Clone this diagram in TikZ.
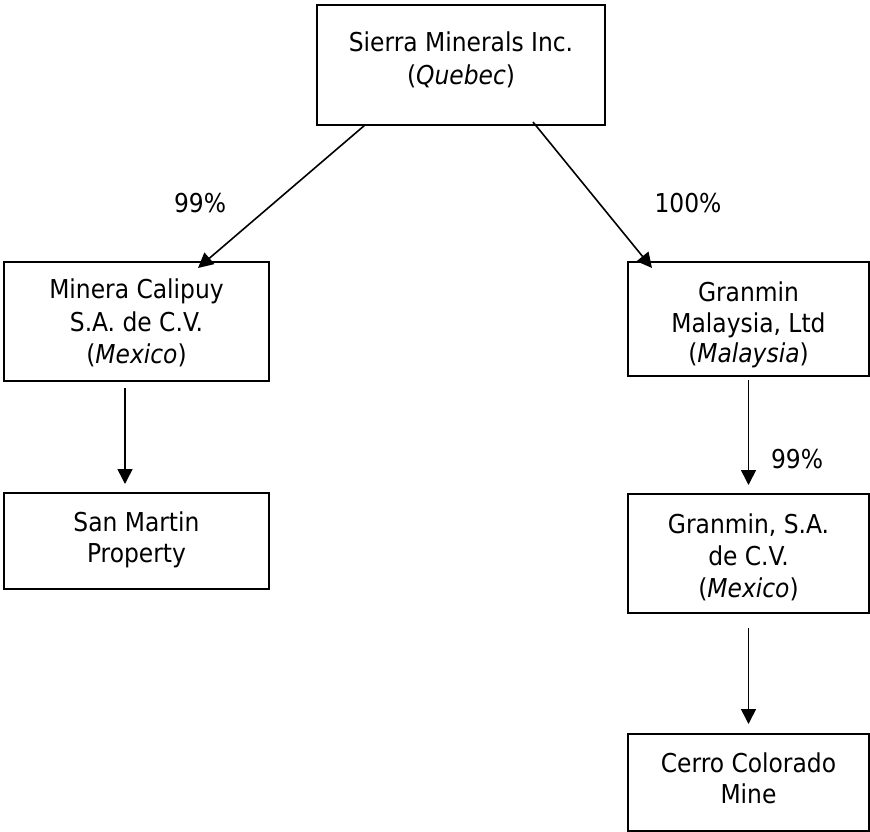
\documentclass[tikz,border=0pt]{standalone}
\usepackage{fontspec}
\setmainfont{DejaVu Sans Condensed}[ItalicFont={DejaVu Sans Condensed Oblique}]
\usetikzlibrary{arrows.meta}
\begin{document}
\begin{tikzpicture}[x=1pt,y=-1pt,
  box/.style={draw=black, line width=2pt, inner sep=0pt, outer sep=0pt, rectangle},
  txt/.style={anchor=base, inner sep=0pt, font=\fontsize{26pt}{32pt}\selectfont},
  pct/.style={anchor=base, inner sep=0pt, font=\fontsize{26pt}{32pt}\selectfont},
  arr/.style={line width=1.6pt, -{Triangle[length=15pt,width=15pt]}}]
\useasboundingbox (0,0) rectangle (870,832);
% boxes
\node[box, minimum width=288pt, minimum height=120pt] (top) at (461,65) {};
\node[box, minimum width=265pt, minimum height=119pt] (minera) at (136.5,321.5) {};
\node[box, minimum width=265pt, minimum height=96pt] (sanmartin) at (136.5,541) {};
\node[box, minimum width=241pt, minimum height=114pt] (malaysia) at (748.5,319) {};
\node[box, minimum width=241pt, minimum height=119pt] (granminsa) at (748.5,553.5) {};
\node[box, minimum width=241pt, minimum height=97pt] (cerro) at (748.5,782.5) {};
% texts
\node[txt] (topa) at (461,52) {Sierra Minerals Inc.};
\node[txt] (topb) at (461,85) {(\textit{Quebec})};
\node[txt] (minera1) at (136.5,298) {Minera Calipuy};
\node[txt] (minera2) at (136.5,331) {S.A. de C.V.};
\node[txt] (minera3) at (136.5,363) {(\textit{Mexico})};
\node[txt] (sanm1) at (136.5,531) {San Martin};
\node[txt] (sanm2) at (136.5,562) {Property};
\node[txt] (mal1) at (748.5,301) {Granmin};
\node[txt] (mal2) at (748.5,332) {Malaysia, Ltd};
\node[txt] (mal3) at (748.5,362) {(\textit{Malaysia})};
\node[txt] (gsa1) at (748.5,533) {Granmin, S.A.};
\node[txt] (gsa2) at (748.5,565) {de C.V.};
\node[txt] (gsa3) at (748.5,597) {(\textit{Mexico})};
\node[txt] (cer1) at (748.5,772) {Cerro Colorado};
\node[txt] (cer2) at (748.5,803) {Mine};
% percentages
\node[pct] (p1) at (200,212) {99\%};
\node[pct] (p2) at (688,212) {100\%};
\node[pct] (p3) at (797,468) {99\%};
% connectors
\draw[arr] ([xshift=48pt]top.south west) -- ([xshift=194pt,yshift=-6pt]minera.north west);
\draw[arr] ([xshift=216pt,yshift=3pt]top.south west) -- ([xshift=24pt,yshift=-6pt]malaysia.north west);
\draw[arr] ([xshift=-11.5pt,yshift=-7pt]minera.south) -- ([xshift=-11.5pt,yshift=9pt]sanmartin.north);
\draw[arr] ([yshift=-4pt]malaysia.south) -- ([yshift=9pt]granminsa.north);
\draw[arr] ([yshift=-15pt]granminsa.south) -- ([yshift=10pt]cerro.north);
\end{tikzpicture}
\end{document}
